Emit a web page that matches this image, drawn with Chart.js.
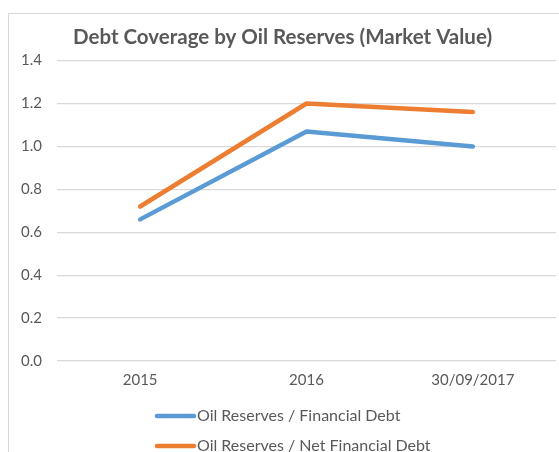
<!DOCTYPE html>
<html>
<head>
<meta charset="utf-8">
<script src="https://cdn.jsdelivr.net/npm/chart.js@4"></script>
<style>
  html, body { margin: 0; padding: 0; background: #fff; overflow: hidden; }
  #frame {
    position: absolute; left: 8px; top: 13px;
    border-left: 1px solid #d9d9d9; border-top: 1px solid #d9d9d9;
    width: 562px; height: 470px;
  }
  canvas { display: block; }
</style>
</head>
<body>
<div id="frame"><canvas id="myChart" width="562" height="470"></canvas></div>
<script>
// data
var periods = ['2015', '2016', '30/09/2017'];
var financialDebt = [0.66, 1.07, 1.00];
var netFinancialDebt = [0.72, 1.20, 1.16];
var seriesNames = ['Oil Reserves / Financial Debt', 'Oil Reserves / Net Financial Debt'];
var chartTitle = 'Debt Coverage by Oil Reserves (Market Value)';

var textColor = '#595959';
var fontFamily = 'Lato, "Open Sans", sans-serif';

// legend drawn one item per row, left aligned (like the Excel original)
var stackedLegend = {
    id: 'stackedLegend',
    afterDraw: function (chart) {
        var ctx = chart.ctx;
        var x0 = 146, rowY = [402, 432];
        ctx.save();
        chart.data.datasets.forEach(function (ds, i) {
            ctx.strokeStyle = ds.borderColor;
            ctx.lineWidth = 4.5;
            ctx.lineCap = 'round';
            ctx.beginPath();
            ctx.moveTo(x0 + 2, rowY[i]);
            ctx.lineTo(x0 + 39, rowY[i]);
            ctx.stroke();
            ctx.fillStyle = textColor;
            ctx.font = '16px ' + fontFamily;
            ctx.textBaseline = 'middle';
            ctx.textAlign = 'left';
            ctx.fillText(ds.label, x0 + 42, rowY[i]);
        });
        ctx.restore();
    }
};

new Chart(document.getElementById('myChart').getContext('2d'), {
    type: 'line',
    data: {
        labels: periods,
        datasets: [
            {
                label: seriesNames[0],
                data: financialDebt,
                borderColor: '#5B9BD5',
                backgroundColor: '#5B9BD5',
                borderWidth: 4.5,
                pointRadius: 0,
                borderCapStyle: 'round',
                borderJoinStyle: 'round',
                tension: 0
            },
            {
                label: seriesNames[1],
                data: netFinancialDebt,
                borderColor: '#ED7D31',
                backgroundColor: '#ED7D31',
                borderWidth: 4.5,
                pointRadius: 0,
                borderCapStyle: 'round',
                borderJoinStyle: 'round',
                tension: 0
            }
        ]
    },
    options: {
        responsive: false,
        animation: false,
        layout: { padding: { left: 0, right: 15, top: 0, bottom: 85 } },
        plugins: {
            legend: { display: false },
            tooltip: { enabled: false },
            title: {
                display: true,
                text: chartTitle,
                color: textColor,
                font: { family: fontFamily, size: 20.5, weight: 'bold' },
                padding: { top: 11, bottom: 11 }
            }
        },
        scales: {
            x: {
                offset: true,
                grid: { display: false, drawTicks: false },
                border: { display: false },
                ticks: { color: textColor, font: { family: fontFamily, size: 15 }, padding: 10 }
            },
            y: {
                min: 0,
                max: 1.4,
                afterFit: function (scale) { scale.width = 48; },
                grid: { color: '#d9d9d9', lineWidth: 1.3, drawTicks: false },
                border: { display: false },
                ticks: {
                    stepSize: 0.2,
                    color: textColor,
                    font: { family: fontFamily, size: 15 },
                    padding: 15,
                    callback: function (v) { return v.toFixed(1); }
                }
            }
        }
    },
    plugins: [stackedLegend]
});
</script>
</body>
</html>
